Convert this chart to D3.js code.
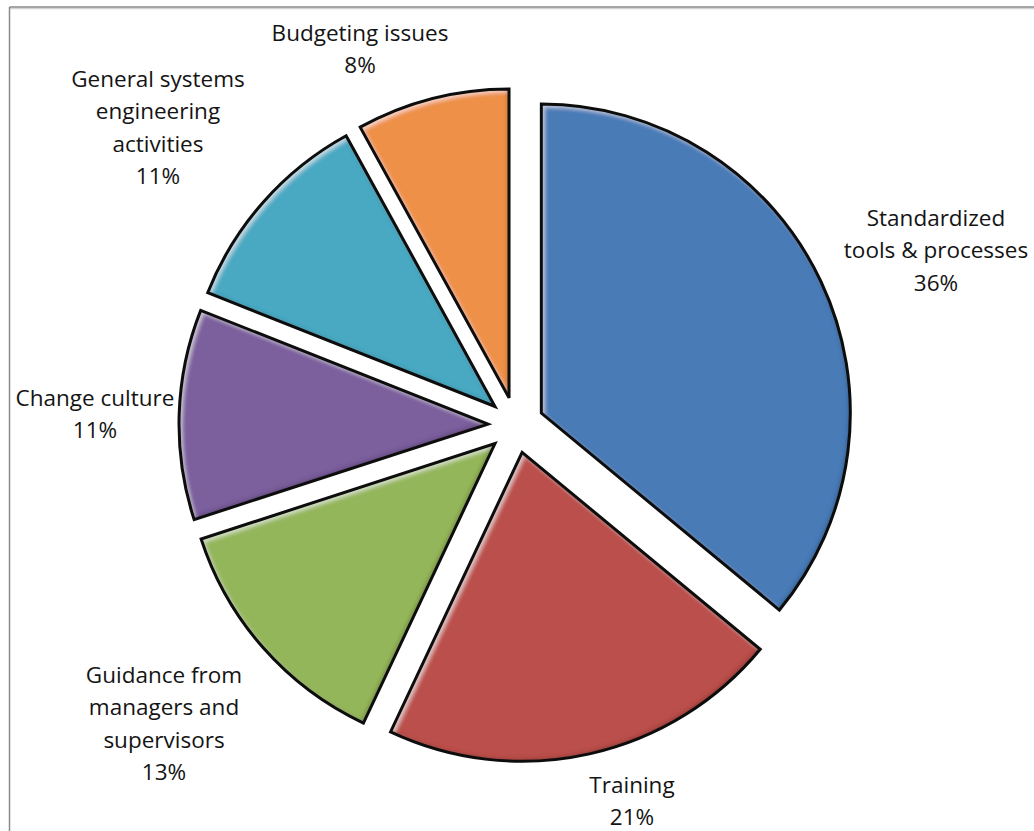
<!DOCTYPE html>
<html>
<head>
<meta charset="utf-8">
<script src="https://cdn.jsdelivr.net/npm/d3@7"></script>
<style>
  html, body { margin: 0; padding: 0; background: #fff; }
  svg { display: block; }
  text { font-family: "Open Sans", Lato, sans-serif; fill: #141414; }
</style>
</head>
<body>
<svg id="chart" width="1034" height="831"></svg>
<script>
// Survey shares, clockwise from 12 o'clock
const categories = [
  "Standardized tools & processes",
  "Training",
  "Guidance from managers and supervisors",
  "Change culture",
  "General systems engineering activities",
  "Budgeting issues"
];
const shares = [36, 21, 13, 11, 11, 8];
const labelLines = [
  ["Standardized", "tools & processes"],
  ["Training"],
  ["Guidance from", "managers and", "supervisors"],
  ["Change culture"],
  ["General systems", "engineering", "activities"],
  ["Budgeting issues"]
];
const sliceColors = ["#4a7bb7", "#bb4f4c", "#94b65a", "#7b5f9d", "#49a9c2", "#ee9047"];

const W = 1034, H = 831;
const cx = 516, cy = 425;
const radius = 309;
const explode = 28;

// Label anchor points (centre of the text block, top line)
const labelPos = [
  [936, 218], [632, 785], [164, 675], [95, 398], [158, 79], [360, 33]
];
const lineStep = 32.5;

const svg = d3.select("#chart");

// Inner bevel: light rim on upper-left edges, dark rim on lower-right edges
const defs = svg.append("defs");
const f = defs.append("filter").attr("id", "bevel")
  .attr("x", "-5%").attr("y", "-5%").attr("width", "110%").attr("height", "110%");
f.append("feGaussianBlur").attr("in", "SourceAlpha").attr("stdDeviation", 2.2).attr("result", "b");
f.append("feOffset").attr("in", "b").attr("dx", 2.5).attr("dy", 2.5).attr("result", "bHi");
f.append("feComposite").attr("in", "SourceAlpha").attr("in2", "bHi").attr("operator", "out").attr("result", "hiMask");
f.append("feFlood").attr("flood-color", "#ffffff").attr("flood-opacity", 0.55).attr("result", "white");
f.append("feComposite").attr("in", "white").attr("in2", "hiMask").attr("operator", "in").attr("result", "hi");
f.append("feOffset").attr("in", "b").attr("dx", -2.5).attr("dy", -2.5).attr("result", "bLo");
f.append("feComposite").attr("in", "SourceAlpha").attr("in2", "bLo").attr("operator", "out").attr("result", "loMask");
f.append("feFlood").attr("flood-color", "#000000").attr("flood-opacity", 0.45).attr("result", "black");
f.append("feComposite").attr("in", "black").attr("in2", "loMask").attr("operator", "in").attr("result", "lo");
const m = f.append("feMerge");
m.append("feMergeNode").attr("in", "SourceGraphic");
m.append("feMergeNode").attr("in", "hi");
m.append("feMergeNode").attr("in", "lo");

// Chart-area frame
svg.append("line").attr("x1", 9).attr("y1", 8.5).attr("x2", W).attr("y2", 8.5)
  .attr("stroke", "#d4d4d4").attr("stroke-width", 1.5);
svg.append("line").attr("x1", 9.5).attr("y1", 7).attr("x2", W).attr("y2", 7)
  .attr("stroke", "#8a8a8a").attr("stroke-width", 1.5);
svg.append("line").attr("x1", 9.5).attr("y1", 7).attr("x2", 9.5).attr("y2", H)
  .attr("stroke", "#8a8a8a").attr("stroke-width", 1.5);

const pie = d3.pie().sort(null).value(d => d).startAngle(0).endAngle(2 * Math.PI);
const arcs = pie(shares);
const arc = d3.arc().innerRadius(0).outerRadius(radius);

const g = svg.append("g").attr("transform", `translate(${cx},${cy})`);

const slices = g.selectAll("g.slice").data(arcs).enter().append("g")
  .attr("class", "slice")
  .attr("transform", d => {
    const a = (d.startAngle + d.endAngle) / 2;
    return `translate(${explode * Math.sin(a)},${-explode * Math.cos(a)})`;
  });

slices.append("path")
  .attr("d", arc)
  .attr("fill", (d, i) => sliceColors[i])
  .attr("filter", "url(#bevel)");

slices.append("path")
  .attr("d", arc)
  .attr("fill", "none")
  .attr("stroke", "#0d0d0d")
  .attr("stroke-width", 3)
  .attr("stroke-linejoin", "miter");

// Category labels with percentages
const labels = svg.selectAll("text.lbl").data(arcs).enter().append("text")
  .attr("class", "lbl")
  .attr("text-anchor", "middle")
  .attr("font-size", 22.5)
  .attr("x", (d, i) => labelPos[i][0])
  .attr("y", (d, i) => labelPos[i][1]);

labels.each(function (d, i) {
  const t = d3.select(this);
  const lines = labelLines[i].concat([`${shares[i]}%`]);
  lines.forEach((s, k) => {
    t.append("tspan")
      .attr("x", labelPos[i][0])
      .attr("y", labelPos[i][1] + k * lineStep)
      .attr("dy", "0.35em")
      .text(s);
  });
});
</script>
</body>
</html>
